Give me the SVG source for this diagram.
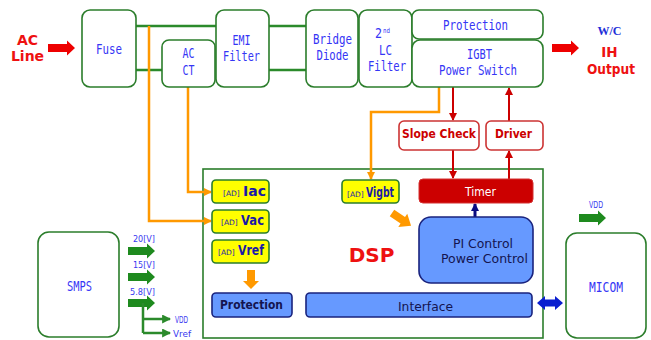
<svg xmlns="http://www.w3.org/2000/svg" width="651" height="340" viewBox="0 0 651 340">
  <style>
    .blk { fill: #ffffff; stroke: #2b7d2b; stroke-width: 1.6; }
    .tb { font-family: "DejaVu Sans Mono", "Liberation Mono", monospace; font-size: 13.5px; fill: #3535f5; text-anchor: middle; }
    .small { font-family: "DejaVu Sans", sans-serif; font-size: 9.5px; fill: #3838f0; }
    .ylw { fill: #ffff00; stroke: #2b7d2b; stroke-width: 1.6; }
    .blu { fill: #6699ff; stroke: #1a237e; stroke-width: 1.6; }
    .ad { font-family: "DejaVu Sans", sans-serif; font-size: 7.5px; fill: #1a1aa8; }
    .adv { font-family: "DejaVu Sans", sans-serif; font-size: 14px; font-weight: bold; fill: #1a1aa8; }
    .nv { font-family: "DejaVu Sans", sans-serif; font-size: 13px; fill: #141450; text-anchor: middle; }
    .red { font-family: "DejaVu Sans", sans-serif; font-weight: bold; fill: #ee1111; text-anchor: middle; }
    .rl { fill: none; stroke: #cc0000; stroke-width: 2; }
    .ol { fill: none; stroke: #ff9900; stroke-width: 2.5; }
    .gl { fill: none; stroke: #2b8a2b; stroke-width: 2.5; }
  </style>
  <defs>
    <path id="fat" d="M0,-4 H19 V-7.5 L27,0 L19,7.5 V4 H0 Z"/>
    <marker id="mo" viewBox="0 0 8 8" refX="7" refY="4" markerWidth="8" markerHeight="8" markerUnits="userSpaceOnUse" orient="auto">
      <path d="M0,0 L8,4 L0,8 Z" fill="#ff9900"/>
    </marker>
    <marker id="mr" viewBox="0 0 8 8" refX="7" refY="4" markerWidth="8" markerHeight="8" markerUnits="userSpaceOnUse" orient="auto">
      <path d="M0,0 L8,4 L0,8 Z" fill="#cc0000"/>
    </marker>
    <marker id="mg" viewBox="0 0 8 8" refX="7" refY="4" markerWidth="9" markerHeight="9" markerUnits="userSpaceOnUse" orient="auto">
      <path d="M0,0 L8,4 L0,8 Z" fill="#2b8a2b"/>
    </marker>
    <marker id="mn" viewBox="0 0 8 8" refX="7" refY="4" markerWidth="8" markerHeight="8" markerUnits="userSpaceOnUse" orient="auto">
      <path d="M0,0 L8,4 L0,8 Z" fill="#0a0a80"/>
    </marker>
  </defs>

  <!-- controller frame (drawn first so connectors cross it) -->
  <g id="dsp">
    <rect x="203" y="169" width="340" height="169" fill="none" stroke="#2b7d2b" stroke-width="1.6"/>
    <text class="red" x="371.5" y="262" font-size="20">DSP</text>
  </g>

  <!-- connectors -->
  <g id="connectors">
    <!-- power lines -->
    <path class="gl" d="M136,26 H216 M136,70 H162 M269,26 H306 M269,70 H306"/>
    <!-- sensing lines -->
    <path class="ol" d="M149,26 V221 H211" marker-end="url(#mo)"/>
    <path class="ol" d="M188,87 V192 H211" marker-end="url(#mo)"/>
    <path class="ol" d="M439,87 V112 H371 V179" marker-end="url(#mo)"/>
    <!-- gate drive path -->
    <path class="rl" d="M453,87 V120" marker-end="url(#mr)"/>
    <path class="rl" d="M453,150 V178" marker-end="url(#mr)"/>
    <path class="rl" d="M509,179 V151" marker-end="url(#mr)"/>
    <path class="rl" d="M509,121 V88" marker-end="url(#mr)"/>
    <!-- PI to timer -->
    <path d="M475,217 V204" fill="none" stroke="#0a0a80" stroke-width="3" marker-end="url(#mn)"/>
    <!-- big arrows -->
    <use href="#fat" transform="translate(48,48)" fill="#ee0000"/>
    <use href="#fat" transform="translate(552,48)" fill="#ee0000"/>
    <use href="#fat" transform="translate(128,251)" fill="#1e8a1e"/>
    <use href="#fat" transform="translate(128,277)" fill="#1e8a1e"/>
    <use href="#fat" transform="translate(128,303)" fill="#1e8a1e"/>
    <use href="#fat" transform="translate(579,218)" fill="#1e8a1e"/>
    <path class="gl" d="M143,303 V333 M143,319 H170" marker-end="url(#mg)"/>
    <path class="gl" d="M143,333 H170" marker-end="url(#mg)"/>
    <path d="M251,270 V281" stroke="#ff9900" stroke-width="8" fill="none"/>
    <path d="M243,281 H259 L251,289 Z" fill="#ff9900"/>
    <path d="M0,-4 H13 V-8 L23,0 L13,8 V4 H0 Z" fill="#ff9900" transform="translate(392,213) rotate(34)"/>
    <path d="M537,303 L545,296 V299.5 H555 V296 L563,303 L555,310 V306.5 H545 V310 Z" fill="#0a1ed0"/>
  </g>

  <!-- power stage -->
  <g id="ac-line">
    <text class="red" x="27.5" y="45" font-size="14">AC</text>
    <text class="red" x="27.5" y="61" font-size="14">Line</text>
  </g>
  <g id="fuse">
    <rect class="blk" x="82" y="10" width="54" height="77" rx="8"/>
    <text class="tb" x="109" y="54" textLength="26" lengthAdjust="spacingAndGlyphs">Fuse</text>
  </g>
  <g id="ac-ct">
    <rect class="blk" x="162" y="40" width="53" height="47" rx="7"/>
    <text class="tb" x="188.5" y="58" textLength="12" lengthAdjust="spacingAndGlyphs">AC</text>
    <text class="tb" x="188.5" y="75" textLength="12" lengthAdjust="spacingAndGlyphs">CT</text>
  </g>
  <g id="emi-filter">
    <rect class="blk" x="216" y="10" width="53" height="77" rx="8"/>
    <text class="tb" x="241.5" y="45" textLength="18" lengthAdjust="spacingAndGlyphs">EMI</text>
    <text class="tb" x="241.5" y="61" textLength="37" lengthAdjust="spacingAndGlyphs">Filter</text>
  </g>
  <g id="bridge-diode">
    <rect class="blk" x="306" y="10" width="52" height="77" rx="8"/>
    <text class="tb" x="332.5" y="44" textLength="39" lengthAdjust="spacingAndGlyphs">Bridge</text>
    <text class="tb" x="332.5" y="60" textLength="32" lengthAdjust="spacingAndGlyphs">Diode</text>
  </g>
  <g id="lc-filter">
    <rect class="blk" x="359" y="10" width="53" height="77" rx="8"/>
    <text class="tb" x="378.5" y="38" textLength="7" lengthAdjust="spacingAndGlyphs">2</text>
    <text class="tb" x="386.5" y="33" style="font-size:7px" textLength="7" lengthAdjust="spacingAndGlyphs">nd</text>
    <text class="tb" x="385.5" y="55" textLength="13" lengthAdjust="spacingAndGlyphs">LC</text>
    <text class="tb" x="387" y="71" textLength="38" lengthAdjust="spacingAndGlyphs">Filter</text>
  </g>
  <g id="protection-top">
    <rect class="blk" x="412" y="10" width="131" height="29" rx="7"/>
    <text class="tb" x="475.5" y="30" textLength="65" lengthAdjust="spacingAndGlyphs">Protection</text>
  </g>
  <g id="igbt">
    <rect class="blk" x="412" y="40" width="131" height="47" rx="8"/>
    <text class="tb" x="479.5" y="59" textLength="25" lengthAdjust="spacingAndGlyphs">IGBT</text>
    <text class="tb" x="478" y="75" textLength="78" lengthAdjust="spacingAndGlyphs">Power Switch</text>
  </g>
  <g id="output">
    <text x="609.5" y="35" font-family="Liberation Serif, serif" font-size="12" font-weight="bold" fill="#1e2ed8" text-anchor="middle">W/C</text>
    <text class="red" x="609.5" y="57" font-size="13.5">IH</text>
    <text class="red" x="611" y="74" font-size="13.5" textLength="48" lengthAdjust="spacingAndGlyphs">Output</text>
  </g>
  <g id="slope-check">
    <rect x="399" y="121" width="80" height="29" rx="5" fill="#ffffff" stroke="#cc3333" stroke-width="1.6"/>
    <text class="red" x="439" y="138" font-size="12" style="fill:#cc0000" textLength="74" lengthAdjust="spacingAndGlyphs">Slope Check</text>
  </g>
  <g id="driver">
    <rect x="486" y="121" width="57" height="29" rx="5" fill="#ffffff" stroke="#cc3333" stroke-width="1.6"/>
    <text class="red" x="513.5" y="138" font-size="12" style="fill:#cc0000" textLength="37" lengthAdjust="spacingAndGlyphs">Driver</text>
  </g>

  <!-- controller blocks -->
  <g id="ad-iac">
    <rect class="ylw" x="212" y="180" width="57" height="23" rx="4"/>
    <text class="ad" x="223" y="196">[AD]</text>
    <text class="adv" x="243" y="196">Iac</text>
  </g>
  <g id="ad-vac">
    <rect class="ylw" x="212" y="210" width="57" height="23" rx="4"/>
    <text class="ad" x="221" y="225">[AD]</text>
    <text class="adv" x="241" y="225" textLength="23" lengthAdjust="spacingAndGlyphs">Vac</text>
  </g>
  <g id="ad-vref">
    <rect class="ylw" x="212" y="240" width="57" height="23" rx="4"/>
    <text class="ad" x="218" y="255">[AD]</text>
    <text class="adv" x="238" y="255" textLength="26" lengthAdjust="spacingAndGlyphs">Vref</text>
  </g>
  <g id="ad-vigbt">
    <rect class="ylw" x="342" y="180" width="57" height="23" rx="4"/>
    <text class="ad" x="347" y="197">[AD]</text>
    <text class="adv" x="366" y="197" textLength="28" lengthAdjust="spacingAndGlyphs">Vigbt</text>
  </g>
  <g id="timer">
    <rect x="419" y="179" width="114" height="24" rx="4" fill="#cc0000" stroke="#d43030" stroke-width="1"/>
    <text x="480.5" y="196" font-family="DejaVu Sans, sans-serif" font-size="11.5" fill="#ffffff" text-anchor="middle" textLength="31" lengthAdjust="spacingAndGlyphs">Timer</text>
  </g>
  <g id="pi-control">
    <rect class="blu" x="419" y="217" width="114" height="66" rx="12"/>
    <text class="nv" x="483" y="248" font-size="14" textLength="60" lengthAdjust="spacingAndGlyphs">PI Control</text>
    <text class="nv" x="484.5" y="263" font-size="14" textLength="87" lengthAdjust="spacingAndGlyphs">Power Control</text>
  </g>
  <g id="protection-dsp">
    <rect class="blu" x="212" y="293" width="80" height="24" rx="4"/>
    <text class="nv" x="251.5" y="309" font-size="14" font-weight="bold" textLength="63" lengthAdjust="spacingAndGlyphs">Protection</text>
  </g>
  <g id="interface">
    <rect class="blu" x="306" y="293" width="226" height="24" rx="4"/>
    <text class="nv" x="425.5" y="311" font-size="14" textLength="55" lengthAdjust="spacingAndGlyphs">Interface</text>
  </g>

  <!-- supplies -->
  <g id="smps">
    <rect class="blk" x="38" y="232" width="81" height="105" rx="11"/>
    <text class="tb" x="79.5" y="291" textLength="25" lengthAdjust="spacingAndGlyphs">SMPS</text>
    <text class="small" x="133" y="242" textLength="22" lengthAdjust="spacingAndGlyphs">20[V]</text>
    <text class="small" x="133" y="268" textLength="22" lengthAdjust="spacingAndGlyphs">15[V]</text>
    <text class="small" x="130" y="295" textLength="25" lengthAdjust="spacingAndGlyphs">5.8[V]</text>
    <text class="small" x="175" y="323" font-size="8.5" textLength="13" lengthAdjust="spacingAndGlyphs">VDD</text>
    <text class="small" x="173" y="337" font-size="8.5" textLength="18" lengthAdjust="spacingAndGlyphs">Vref</text>
  </g>
  <g id="micom">
    <rect class="blk" x="566" y="233" width="80" height="105" rx="11"/>
    <text class="tb" x="606" y="292" textLength="34" lengthAdjust="spacingAndGlyphs">MICOM</text>
    <text class="small" x="589" y="208" font-size="8" textLength="14" lengthAdjust="spacingAndGlyphs">VDD</text>
  </g>
</svg>
